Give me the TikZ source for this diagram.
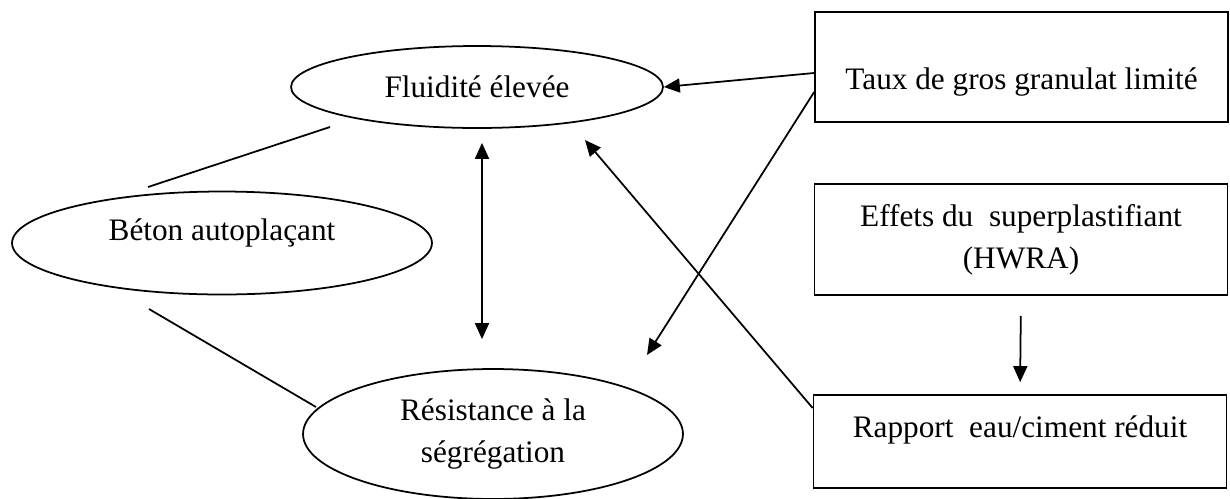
\documentclass[tikz,border=0pt]{standalone}
\usepackage{fontspec}
\setmainfont{Liberation Serif}
\usetikzlibrary{arrows.meta,shapes.geometric}

\begin{document}
\begin{tikzpicture}[x=0.02cm, y=-0.02cm, line width=1pt,
		font=\fontsize{17.8}{24}\selectfont,
		bulle/.style={draw, ellipse, inner sep=0pt},
		boite/.style={draw, rectangle, inner sep=0pt, minimum width=8.26cm, align=center},
		fleche/.style={-{Triangle[length=0.32cm,width=0.28cm]}}]
		\useasboundingbox (0,0) rectangle (1230,498);
		\node[bulle, minimum width=7.44cm, minimum height=1.64cm] (flu) at (477,87) {Fluidité élevée};
		\node[bulle, minimum width=8.4cm, minimum height=2.06cm, text height=0.5cm, text depth=0.62cm] (beton) at (222,243) {Béton autoplaçant};
		\node[bulle, minimum width=7.6cm, minimum height=2.6cm, align=center] (res) at (493,434) {Résistance à la\\ségrégation};
		\node[boite, text height=1.54cm, text depth=0.66cm] (taux) at (1021.5,67) {Taux de gros granulat limité};
		\node[boite, minimum height=2.22cm] (eff) at (1021,239.5) {Effets du~ superplastifiant\\(HWRA)};
		\node[boite, text height=0.84cm, text depth=1.02cm] (rap) at (1020,441.5) {Rapport~ eau/ciment réduit};
		\coordinate (bf1) at (148,187);
		\coordinate (bf2) at (330,127);
		\coordinate (br1) at (149,309);
		\coordinate (br2) at (316,407);
		\coordinate (tr) at (647,355);
		\coordinate (rf) at (585,140);
		\draw (bf1) -- (bf2);
		\draw (br1) -- (br2);
		\draw[{Triangle[length=0.32cm,width=0.28cm]}-{Triangle[length=0.32cm,width=0.28cm]}, shorten <=0.28cm, shorten >=0.58cm] ([xshift=0.1cm]flu.south) -- ([xshift=0.1cm]flu.south |- res.north);
		\draw[fleche] ([yshift=-0.12cm]taux.west) -- (flu.east);
		\draw[fleche] ([yshift=-0.5cm]taux.west) -- (tr);
		\draw[fleche] ([yshift=0.67cm]rap.west) -- (rf);
		\draw[fleche, shorten <=0.4cm, shorten >=0.24cm] (eff.south) -- (rap.north);
	\end{tikzpicture}
\end{document}
